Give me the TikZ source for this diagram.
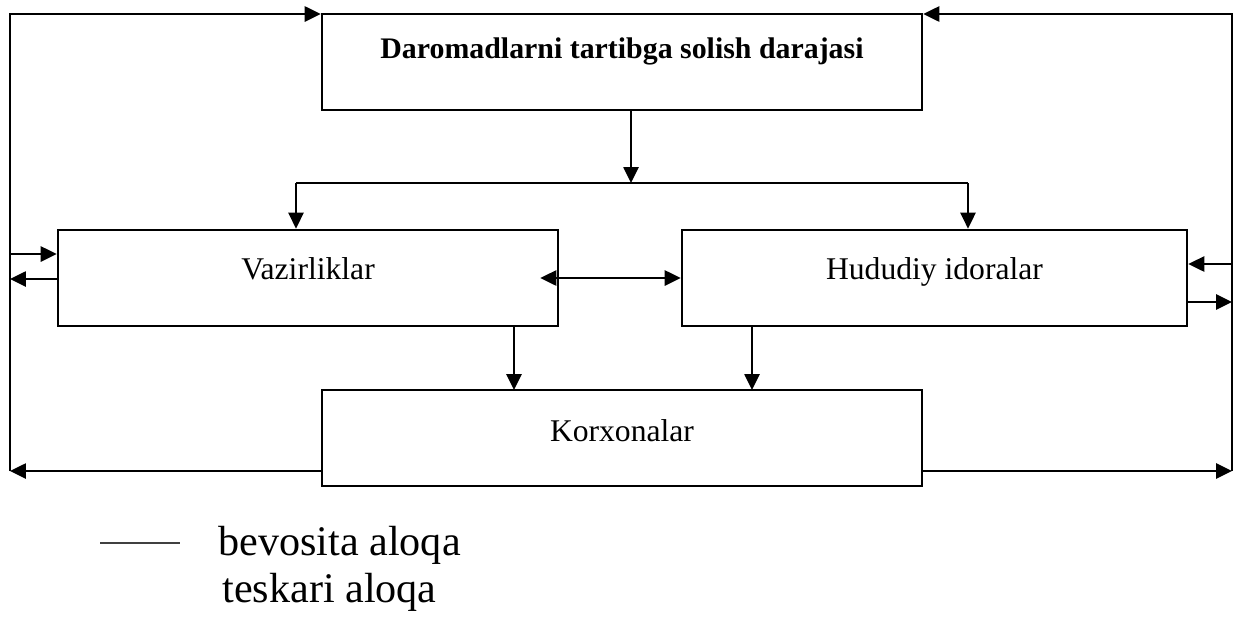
\documentclass[tikz,border=0pt]{standalone}
\usepackage{fontspec}
\setmainfont{Liberation Serif}
\usetikzlibrary{positioning,arrows.meta,calc}

\begin{document}
\begin{tikzpicture}[x=0.02cm, y=-0.02cm,
      box/.style={draw, line width=1.5pt, inner sep=0pt, minimum height=1.92cm,
                  align=center, font=\fontsize{18}{22}\selectfont},
      arr/.style={-{Triangle[length=0.32cm, width=0.3cm]}, line width=1.5pt},
      legend/.style={anchor=west, inner sep=0pt, font=\fontsize{24}{28}\selectfont}]
    \useasboundingbox (0,0) rectangle (1234,616);
    \node[box, minimum width=12cm, text height=0.88cm, text depth=1.02cm,
          font=\fontsize{17}{20}\selectfont\bfseries] (top) at (622,62)
          {Daromadlarni tartibga solish darajasi};
    \node[box, minimum width=10cm, text height=0.98cm, text depth=0.94cm] (vaz) at (308,278) {Vazirliklar};
    \node[box, minimum width=10.1cm, text height=0.98cm, text depth=0.94cm] (hud) at (934.5,278) {Hududiy idoralar};
    \node[box, minimum width=12cm, text height=1.02cm, text depth=0.9cm] (kor) at (622,438) {Korxonalar};
    % top level down to both middle boxes
    \coordinate (split) at (631,183);
    \coordinate (splitL) at (296,183);
    \coordinate (splitR) at (968,183);
    \draw[arr] (top.south -| split) -- (split);
    \draw[line width=1.5pt] (splitL) -- (splitR);
    \draw[arr] (splitL) -- (vaz.north -| splitL);
    \draw[arr] (splitR) -- (hud.north -| splitR);
    \draw[{Triangle[length=0.32cm, width=0.3cm]}-{Triangle[length=0.32cm, width=0.3cm]},
          line width=1.5pt, shorten <=-0.38cm] (vaz.east) -- (hud.west);
    % middle boxes down to Korxonalar
    \coordinate (vk) at (514,390);
    \coordinate (hk) at (752,390);
    \draw[arr] (vk |- vaz.south) -- (vk);
    \draw[arr] (hk |- hud.south) -- (hk);
    % outer frame
    \coordinate (fl1) at (10,14);
    \coordinate (fl2) at (10,471);
    \coordinate (fr1) at (1232,14);
    \coordinate (fr2) at (1232,471);
    \draw[arr] (fl2) -- (fl1) -- (fl1 -| top.west);
    \draw[arr] (fr2) -- (fr1) -- (fr1 -| top.east);
    \draw[arr] (fl2 -| kor.west) -- (fl2);
    \draw[arr] (fr2 -| kor.east) -- (fr2);
    \coordinate (vin) at (10,254);
    \coordinate (vout) at (10,279);
    \coordinate (hin) at (1232,264);
    \coordinate (hout) at (1232,302);
    \draw[arr] (vin) -- (vin -| vaz.west);
    \draw[arr] (vout -| vaz.west) -- (vout);
    \draw[arr] (hin) -- (hin -| hud.east);
    \draw[arr] (hout -| hud.east) -- (hout);
    % legend
    \coordinate (lg1) at (100,543);
    \coordinate (lg2) at (180,543);
    \draw[line width=0.6pt, black!75] (lg1) -- (lg2);
    \node[legend] (bev) at (218,545) {bevosita aloqa};
    \node[legend] (tes) at (222,592) {teskari aloqa};
\end{tikzpicture}
\end{document}
